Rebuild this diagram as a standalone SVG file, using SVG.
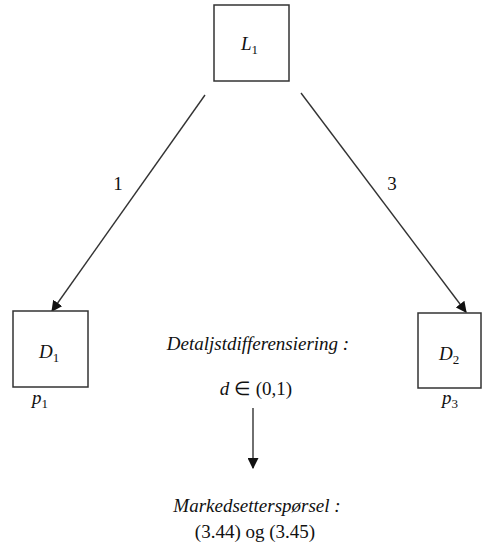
<svg xmlns="http://www.w3.org/2000/svg" width="483" height="550" viewBox="0 0 483 550">
<style>
.box{fill:#fff;stroke:#333;stroke-width:1.5}
text{font-family:'Liberation Serif','Times New Roman',serif;font-size:19px;fill:#111}
.i{font-style:italic}
.s{font-size:13px;font-style:normal}
.ln{stroke:#333;stroke-width:1.4;fill:none}
</style>
<defs>
<marker id="ah" viewBox="0 0 10 10" refX="9" refY="5" markerWidth="11" markerHeight="11" markerUnits="userSpaceOnUse" orient="auto">
<path d="M0,0 L10,5 L0,10 z" fill="#111"/>
</marker>
</defs>
<rect width="483" height="550" fill="#fff"/>
<g id="connectors">
<line class="ln" x1="205" y1="95" x2="52" y2="311" marker-end="url(#ah)"/>
<line class="ln" x1="301" y1="93" x2="466" y2="312" marker-end="url(#ah)"/>
<line class="ln" x1="253" y1="408" x2="253" y2="468" marker-end="url(#ah)"/>
<text x="118" y="190" text-anchor="middle">1</text>
<text x="392" y="190" text-anchor="middle">3</text>
</g>
<g id="L1">
<rect class="box" x="214" y="5" width="75" height="76"/>
<text class="i" x="241" y="50">L<tspan class="s" dy="4">1</tspan></text>
</g>
<g id="D1">
<rect class="box" x="13" y="311" width="75" height="76"/>
<text class="i" x="39" y="358">D<tspan class="s" dy="4">1</tspan></text>
<text class="i" x="32" y="404">p<tspan class="s" dy="4">1</tspan></text>
</g>
<g id="D2">
<rect class="box" x="418" y="313" width="63" height="75"/>
<text class="i" x="439" y="360">D<tspan class="s" dy="4">2</tspan></text>
<text class="i" x="442" y="404">p<tspan class="s" dy="4">3</tspan></text>
</g>
<g id="detalj">
<text class="i" x="258" y="350" text-anchor="middle">Detaljstdifferensiering :</text>
<text x="256" y="395" text-anchor="middle"><tspan font-style="italic">d</tspan> ∈ (0,1)</text>
</g>
<g id="marked">
<text class="i" x="257" y="512" text-anchor="middle">Markedsetterspørsel :</text>
<text x="255" y="538" text-anchor="middle">(3.44) og (3.45)</text>
</g>
</svg>
